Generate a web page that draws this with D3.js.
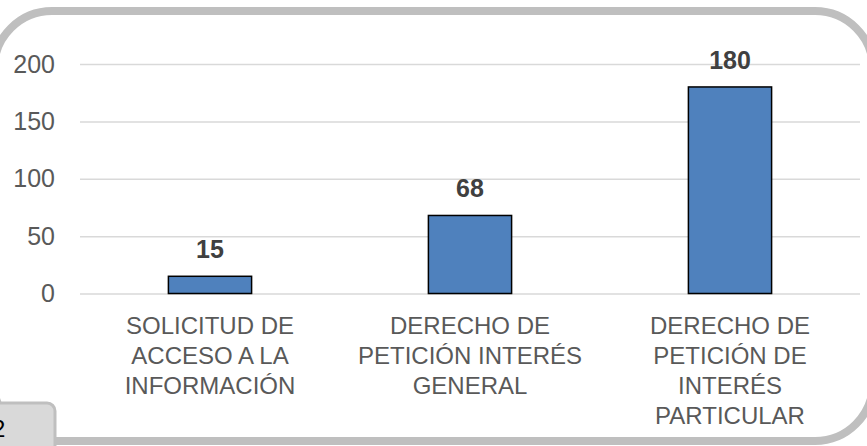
<!DOCTYPE html>
<html lang="es">
<head>
<meta charset="utf-8">
<title>Solicitudes por tipo</title>
<script src="https://d3js.org/d3.v7.min.js"></script>
<style>
  body { margin: 0; background: #fff; }
  svg { display: block; font-family: "Liberation Sans", Arial, sans-serif; }
</style>
</head>
<body>
<div id="chart"></div>
<script>
// chart data
var categories = [
  "SOLICITUD DE\nACCESO A LA\nINFORMACIÓN",
  "DERECHO DE\nPETICIÓN INTERÉS\nGENERAL",
  "DERECHO DE\nPETICIÓN DE\nINTERÉS\nPARTICULAR"
];
var values = [15, 68, 180];
var yTicks = [0, 50, 100, 150, 200];
var pageNumber = "2";

var width = 867, height = 446;
var plot = { left: 80, right: 860, top: 64, bottom: 293.5 };

var svg = d3.select("#chart").append("svg")
  .attr("width", width)
  .attr("height", height);

// rounded frame around the chart (its sides run just off the page)
svg.append("rect")
  .attr("x", -6).attr("y", 11)
  .attr("width", 879).attr("height", 430)
  .attr("rx", 58).attr("ry", 58)
  .attr("fill", "none")
  .attr("stroke", "#bfbfbf")
  .attr("stroke-width", 8);

var x = d3.scaleBand()
  .domain(categories)
  .range([plot.left, plot.right])
  .paddingInner(0.68)
  .paddingOuter(0.34);

var y = d3.scaleLinear()
  .domain([0, 200])
  .range([plot.bottom, plot.top]);

// y axis with gridlines
var yAxis = svg.append("g")
  .attr("transform", "translate(" + plot.left + ",0)")
  .call(d3.axisLeft(y)
    .tickValues(yTicks)
    .tickSize(-(plot.right - plot.left))
    .tickPadding(25));
yAxis.select(".domain").remove();
yAxis.selectAll(".tick line")
  .attr("stroke", "#d9d9d9")
  .attr("stroke-width", 1.5);
yAxis.selectAll(".tick text")
  .attr("fill", "#595959")
  .style("font-size", "25px")
  .style("font-family", "'Liberation Sans', Arial, sans-serif");

// bars
svg.selectAll("rect.bar")
  .data(values)
  .enter()
  .append("rect")
  .attr("class", "bar")
  .attr("x", function (d, i) { return x(categories[i]); })
  .attr("width", x.bandwidth())
  .attr("y", function (d) { return y(d); })
  .attr("height", function (d) { return y(0) - y(d); })
  .attr("fill", "#4f81bd")
  .attr("stroke", "#000")
  .attr("stroke-width", 1.5);

// value labels
svg.selectAll("text.val")
  .data(values)
  .enter()
  .append("text")
  .attr("class", "val")
  .attr("x", function (d, i) { return x(categories[i]) + x.bandwidth() / 2; })
  .attr("y", function (d) { return y(d) - 18; })
  .attr("text-anchor", "middle")
  .attr("fill", "#404040")
  .style("font-size", "25px")
  .style("font-weight", "bold")
  .text(function (d) { return d; });

// category labels, one tspan per line
var catLabels = svg.selectAll("text.cat")
  .data(categories)
  .enter()
  .append("text")
  .attr("class", "cat")
  .attr("text-anchor", "middle")
  .attr("fill", "#595959")
  .style("font-size", "24px");

catLabels.each(function (d) {
  var t = d3.select(this);
  var cx = x(d) + x.bandwidth() / 2;
  d.split("\n").forEach(function (line, k) {
    t.append("tspan")
      .attr("x", cx)
      .attr("y", 334 + k * 30)
      .text(line);
  });
});

// little page tab at the bottom left
svg.append("rect")
  .attr("x", -20).attr("y", 403)
  .attr("width", 75).attr("height", 60)
  .attr("rx", 8).attr("ry", 8)
  .attr("fill", "#d9d9d9")
  .attr("stroke", "#bfbfbf")
  .attr("stroke-width", 3);

svg.append("text")
  .attr("x", -8).attr("y", 437)
  .attr("fill", "#000")
  .style("font-size", "24px")
  .text(pageNumber);
</script>
</body>
</html>
